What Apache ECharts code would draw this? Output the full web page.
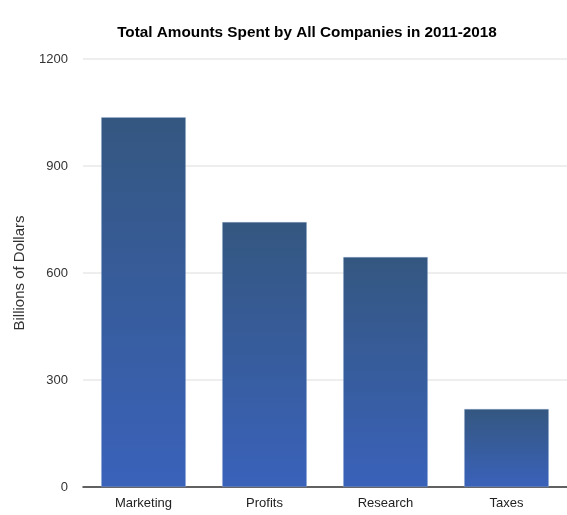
<!DOCTYPE html>
<html>
<head>
<meta charset="utf-8">
<script src="https://cdn.jsdelivr.net/npm/echarts@6/dist/echarts.min.js"></script>
<style>
  html, body { margin: 0; padding: 0; background: #fff; }
  #chart { width: 567px; height: 515px; }
</style>
</head>
<body>
<div id="chart"></div>
<script>
// Spending categories and totals (billions of dollars)
const categories = ['Marketing', 'Profits', 'Research', 'Taxes'];
const amounts = [1037, 743, 645, 219];
const yTicks = [0, 300, 600, 900, 1200];

const chart = echarts.init(document.getElementById('chart'));
chart.setOption({
  animation: false,
  title: {
    text: 'Total Amounts Spent by All Companies in 2011-2018',
    left: 302,
    textAlign: 'center',
    top: 20,
    textStyle: {
      fontFamily: '"Liberation Sans", Arial, sans-serif',
      fontWeight: 'bold',
      fontSize: 15.3,
      color: '#000'
    }
  },
  grid: { left: 83, right: -9, top: 59, bottom: 28 },
  xAxis: {
    type: 'category',
    data: categories,
    axisLine: { lineStyle: { color: '#333', width: 1.5 } },
    axisTick: { show: false },
    axisLabel: {
      color: '#222',
      fontSize: 13,
      margin: 10,
      fontFamily: '"Liberation Sans", Arial, sans-serif'
    }
  },
  yAxis: {
    type: 'value',
    min: yTicks[0],
    max: yTicks[yTicks.length - 1],
    interval: 300,
    name: 'Billions of Dollars',
    nameLocation: 'middle',
    nameGap: 56,
    nameTextStyle: {
      color: '#333',
      fontSize: 15,
      fontFamily: '"Liberation Sans", Arial, sans-serif'
    },
    axisLine: { show: false },
    axisTick: { show: false },
    axisLabel: {
      color: '#333',
      fontSize: 13,
      margin: 15,
      formatter: (v) => String(v),
      fontFamily: '"Liberation Sans", Arial, sans-serif'
    },
    splitLine: { lineStyle: { color: '#e8e8e8', width: 1.5 } }
  },
  series: [{
    type: 'bar',
    data: amounts,
    barWidth: '70%',
    itemStyle: {
      borderColor: 'rgba(170,195,225,0.6)',
      borderWidth: 0.5,
      color: new echarts.graphic.LinearGradient(0, 0, 0, 1, [
        { offset: 0, color: '#345780' },
        { offset: 1, color: '#3a62ba' }
      ])
    }
  }]
});
</script>
</body>
</html>
